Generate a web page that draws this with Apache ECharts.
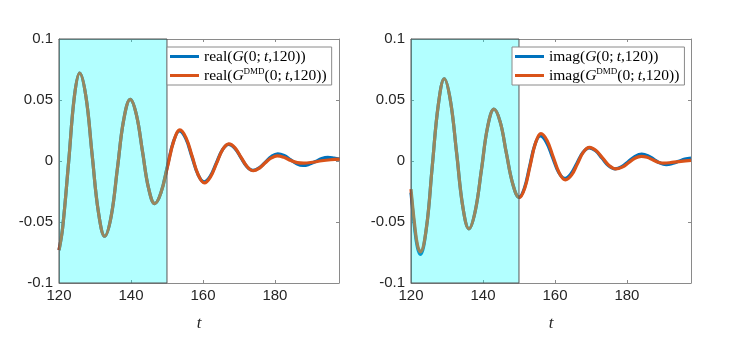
<!DOCTYPE html>
<html>
<head>
<meta charset="utf-8">
<script src="https://cdn.jsdelivr.net/npm/echarts@6/dist/echarts.min.js"></script>
<style>
    html, body { margin: 0; padding: 0; background: #fff; }
    #chart { width: 747px; height: 337px; }
</style>
</head>
<body>
<div id="chart"></div>
<script>
    // left panel: real part
    var tRealG = [120, 121, 122.7, 124.3, 125.75, 127.5, 129.2, 130.96, 132.7, 134.5, 136.25, 138, 139.8, 141.5, 143.2, 144.9, 146.6, 148.3, 150.05, 151.8, 153.5, 155.2, 156.9, 158.6, 160.3, 162, 163.7, 165.4, 167.1, 168.8, 170.5, 172.2, 173.9, 175.6, 177.35, 179.1, 180.8, 182.55, 184.3, 186.05, 187.8, 189.5, 191.25, 193, 194.7, 196.4, 198];
    var realG = [-0.073, -0.055, 0, 0.0535, 0.072, 0.0524, 0.0052, -0.0421, -0.0617, -0.0453, -0.0056, 0.0341, 0.0505, 0.038, 0.0078, -0.0225, -0.035, -0.0263, -0.0052, 0.0159, 0.0246, 0.0185, 0.0038, -0.011, -0.0171, -0.0126, -0.0017, 0.0092, 0.0137, 0.0106, 0.003, -0.0046, -0.0077, -0.0057, -0.0009, 0.0039, 0.0059, 0.0045, 0.0011, -0.0023, -0.0037, -0.0027, -0.0004, 0.002, 0.003, 0.0024, 0.0015];
    var tRealD = [120, 121, 122.7, 124.3, 125.75, 127.5, 129.2, 130.96, 132.7, 134.5, 136.25, 138, 139.8, 141.5, 143.2, 144.9, 146.6, 148.3, 150.2, 151.9, 153.6, 155.3, 157, 158.7, 160.4, 162.1, 163.8, 165.5, 167.2, 168.9, 170.6, 172.3, 174, 175.7, 177.3, 179, 180.6, 182.5, 184.4, 186.2, 188, 190.5, 193, 195.5, 198];
    var realD = [-0.073, -0.055, 0, 0.0535, 0.072, 0.0524, 0.0052, -0.0421, -0.0617, -0.0453, -0.0056, 0.0341, 0.0505, 0.038, 0.0078, -0.0225, -0.035, -0.0263, -0.004, 0.0165, 0.0255, 0.019, 0.0038, -0.0115, -0.018, -0.013, -0.0018, 0.0095, 0.014, 0.0108, 0.003, -0.0047, -0.008, -0.0058, -0.0015, 0.0025, 0.0042, 0.003, 0.0004, -0.0013, -0.0017, -0.001, 0.0002, 0.001, 0.0015];

    // right panel: imaginary part
    var tImagG = [120, 121, 121.8, 122.6, 124.26, 125.9, 127.6, 129.25, 130.96, 132.7, 134.4, 136.1, 137.84, 139.6, 141.3, 143.05, 144.8, 146.5, 148.3, 150, 151.5, 152.95, 154.4, 155.9, 157.6, 159.3, 161, 162.7, 164.4, 166.1, 167.8, 169.5, 171.3, 173.1, 174.9, 176.7, 178.55, 180.4, 182.25, 184.1, 185.8, 187.5, 189.2, 190.9, 192.6, 194.35, 196.1, 197.8];
    var imagG = [-0.026, -0.055, -0.071, -0.0765, -0.0554, -0.0046, 0.0463, 0.0674, 0.0494, 0.0059, -0.0376, -0.0556, -0.0412, -0.0066, 0.0281, 0.0425, 0.0319, 0.0064, -0.0191, -0.0297, -0.0223, -0.0046, 0.0131, 0.0205, 0.0154, 0.0031, -0.0092, -0.0143, -0.0106, -0.0018, 0.0071, 0.0108, 0.0083, 0.0022, -0.0039, -0.0064, -0.0046, -0.0004, 0.0038, 0.0056, 0.0044, 0.0014, -0.0017, -0.0029, -0.0021, -0.0003, 0.0016, 0.0024];
    var tImagD = [120, 121, 121.8, 122.6, 124.26, 125.9, 127.6, 129.25, 130.96, 132.7, 134.4, 136.1, 137.84, 139.6, 141.3, 143.05, 144.8, 146.5, 148.3, 150.1, 151.6, 153.1, 154.6, 156.1, 157.8, 159.5, 161.2, 162.9, 164.6, 166.25, 167.9, 169.6, 171.4, 173.25, 175.1, 176.9, 178.7, 180.45, 182.2, 184, 185.6, 187.15, 188.7, 190.3, 192.5, 195, 197.8];
    var imagD = [-0.023, -0.052, -0.069, -0.0745, -0.0554, -0.0046, 0.0463, 0.0674, 0.0494, 0.0059, -0.0376, -0.0556, -0.0412, -0.0066, 0.0281, 0.0425, 0.0319, 0.0064, -0.0191, -0.030, -0.0223, -0.0038, 0.0148, 0.0225, 0.0169, 0.0035, -0.0099, -0.0155, -0.0116, -0.0022, 0.0073, 0.0112, 0.0086, 0.0024, -0.0039, -0.0065, -0.005, -0.0014, 0.0023, 0.0038, 0.003, 0.001, -0.001, -0.0018, -0.0012, -0.0003, 0.0005];

    // training window (shaded) and axes
    var shadeFrom = 120, shadeTo = 150;
    var xMin = 120, xMax = 197.8, xStep = 20;
    var yMin = -0.1, yMax = 0.1, yStep = 0.05;

    var blue = '#0072BD', orange = '#D95319';
    var boxColor = '#8a8a8a', textColor = '#262626';

    function pairs(t, v) {
        var out = [];
        for (var i = 0; i < t.length; i++) out.push([t[i], v[i]]);
        return out;
    }

    function xAx(gridIndex, top) {
        return {
            type: 'value', gridIndex: gridIndex, position: top ? 'top' : 'bottom',
            min: xMin, max: xMax, interval: xStep,
            name: top ? '' : 't', nameLocation: 'middle', nameGap: 32,
            nameTextStyle: {fontFamily: 'Liberation Serif', fontStyle: 'italic', fontSize: 17, color: textColor},
            axisLine: {show: true, onZero: false, lineStyle: {color: boxColor, width: 1}},
            axisTick: {show: true, inside: true, length: 3, lineStyle: {color: boxColor}},
            axisLabel: {show: !top, showMaxLabel: false, margin: 5, fontFamily: 'Liberation Sans', fontSize: 15, color: textColor},
            splitLine: {show: false}
        };
    }

    function yAx(gridIndex, right) {
        return {
            type: 'value', gridIndex: gridIndex, position: right ? 'right' : 'left',
            min: yMin, max: yMax, interval: yStep,
            axisLine: {show: true, onZero: false, lineStyle: {color: boxColor, width: 1}},
            axisTick: {show: true, inside: true, length: 3, lineStyle: {color: boxColor}},
            axisLabel: {show: !right, margin: 6, fontFamily: 'Liberation Sans', fontSize: 15, color: textColor},
            splitLine: {show: false}
        };
    }

    function lineSeries(name, idx, data, color) {
        return {
            name: name, type: 'line', xAxisIndex: idx, yAxisIndex: idx,
            data: data, showSymbol: false, smooth: 0.4, z: 2,
            lineStyle: {color: color, width: 3.2},
            itemStyle: {color: color}
        };
    }

    // cyan window drawn over the curves, like the translucent patch in the original
    function shadeSeries(idx) {
        return {
            type: 'line', xAxisIndex: idx, yAxisIndex: idx, data: [], z: 3,
            markArea: {
                silent: true, z: 3,
                itemStyle: {color: 'rgba(0,255,255,0.3)', borderColor: '#555', borderWidth: 1},
                data: [[{xAxis: shadeFrom, yAxis: yMin}, {xAxis: shadeTo, yAxis: yMax}]]
            }
        };
    }

    var rich = {
        n: {fontFamily: 'Liberation Serif', fontSize: 15.5, color: '#000'},
        i: {fontFamily: 'Liberation Serif', fontStyle: 'italic', fontSize: 15.5, color: '#000'},
        s: {fontFamily: 'Liberation Serif', fontSize: 9, color: '#000', padding: [0, 0, 7, 0]}
    };

    function legendText(name) {
        var fn = name.indexOf('real') === 0 ? 'real' : 'imag';
        var dmd = name.indexOf('DMD') > 0;
        return '{n|' + fn + '(}{i|G}' + (dmd ? '{s|DMD}' : '') + '{n|(0;\u2009}{i|t}{n|,120))}';
    }

    function legend(left, names) {
        return {
            left: left, top: 47, orient: 'vertical', z: 10,
            data: names, icon: 'rect', itemWidth: 29, itemHeight: 3, itemGap: 2,
            backgroundColor: '#fff', borderColor: boxColor, borderWidth: 1,
            padding: [1, 5, 1, 3], selectedMode: false,
            formatter: legendText,
            textStyle: {rich: rich, lineHeight: 17}
        };
    }

    var myChart = echarts.init(document.getElementById('chart'), null, {renderer: 'canvas'});
    myChart.setOption({
        backgroundColor: '#fff',
        animation: false,
        grid: [
            {left: 59, top: 39, width: 280, height: 250},
            {left: 411, top: 39, width: 280, height: 250}
        ],
        xAxis: [xAx(0, false), xAx(1, false), xAx(0, true), xAx(1, true)],
        yAxis: [yAx(0, false), yAx(1, false), yAx(0, true), yAx(1, true)],
        legend: [
            legend(167, ['real G', 'real DMD']),
            legend(512, ['imag G', 'imag DMD'])
        ],
        series: [
            lineSeries('real G', 0, pairs(tRealG, realG), blue),
            lineSeries('real DMD', 0, pairs(tRealD, realD), orange),
            shadeSeries(0),
            lineSeries('imag G', 1, pairs(tImagG, imagG), blue),
            lineSeries('imag DMD', 1, pairs(tImagD, imagD), orange),
            shadeSeries(1)
        ]
    });
</script>
</body>
</html>
